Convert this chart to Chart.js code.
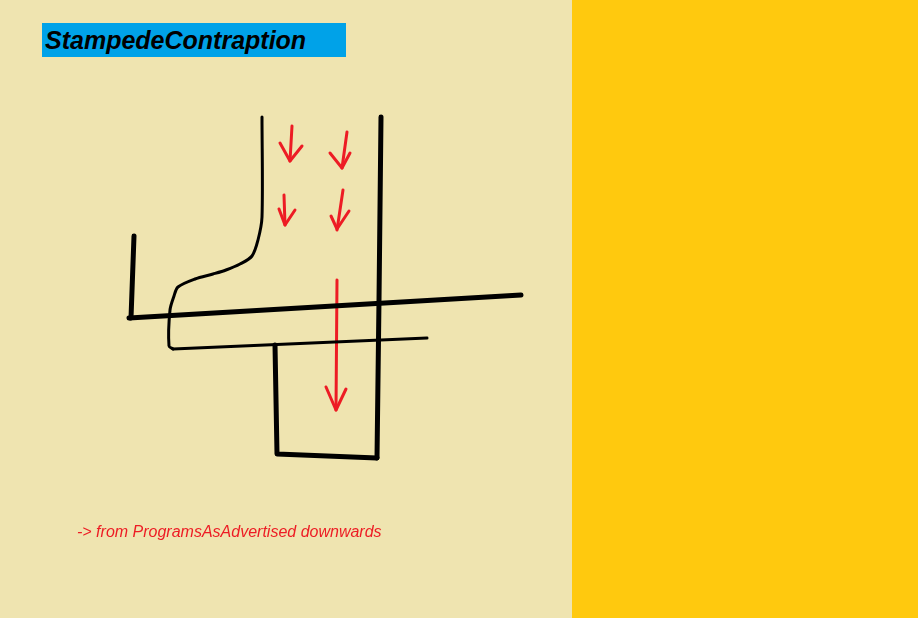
<!DOCTYPE html>
<html>
<head>
<meta charset="utf-8">
<script src="https://cdn.jsdelivr.net/npm/chart.js@4"></script>
<style>
  html, body { margin: 0; padding: 0; }
  #wrap {
    position: relative; width: 918px; height: 618px; overflow: hidden;
    background: linear-gradient(to right, #EFE4B0 0px, #EFE4B0 572px, #FFC90E 572px, #FFC90E 918px);
  }
  #sketch { position: absolute; left: 0; top: 0; }
  #title {
    position: absolute; left: 42px; top: 23px; width: 304px; height: 34px;
    background: #00A2E8; color: #000;
    font: italic bold 25px "Liberation Sans", Arial, sans-serif; line-height: 34px;
    padding-left: 3px; box-sizing: border-box; white-space: nowrap;
  }
  #note {
    position: absolute; left: 77px; top: 524px; color: #ED1C24;
    font: italic 16px "Liberation Sans", Arial, sans-serif; line-height: 16px; white-space: nowrap;
  }
</style>
</head>
<body>
<div id="wrap">
  <canvas id="sketch" width="918" height="618"></canvas>
  <div id="title">StampedeContraption</div>
  <div id="note">-&gt; from ProgramsAsAdvertised downwards</div>
</div>
<script>
// sketch strokes, as [x, y] points on a 918 x 618 grid (y grows downwards)
const wallLeftShort = [[134, 236], [131, 318]];
const floorLong = [[129, 318], [521, 295]];
const chuteCurve = [[262, 117], [262, 217], [258, 240], [252, 256], [240, 264], [226, 270],
                    [213, 274], [195, 279], [178, 287], [174, 296], [170, 310], [169, 346], [173, 349]];
const shelfLine = [[173, 349], [427, 338]];
const wallRight = [[381, 117], [379, 300], [377, 458]];
const binOutline = [[275, 345], [277, 454], [377, 458]];

const arrowAShaft = [[292, 126], [290, 161]];
const arrowAHead = [[280, 143], [290, 161], [302, 146]];
const arrowBShaft = [[347, 132], [342, 168]];
const arrowBHead = [[330, 153], [342, 168], [350, 153]];
const arrowCShaft = [[284, 195], [285, 225]];
const arrowCHead = [[279, 209], [285, 225], [295, 210]];
const arrowDShaft = [[343, 190], [337, 230]];
const arrowDHead = [[331, 216], [337, 229], [349, 211]];
const arrowLongShaft = [[337, 280], [336, 410]];
const arrowLongHead = [[326, 387], [336, 410], [346, 389]];

const BLACK = '#000000';
const RED = '#ED1C24';

function stroke(points, color, width, tension) {
  return {
    data: points.map(p => ({ x: p[0], y: p[1] })),
    showLine: true,
    borderColor: color,
    borderWidth: width,
    borderCapStyle: 'round',
    borderJoinStyle: 'round',
    pointRadius: 0,
    pointHoverRadius: 0,
    tension: tension || 0,
    fill: false
  };
}

const datasets = [
  stroke(wallLeftShort, BLACK, 5),
  stroke(floorLong, BLACK, 5),
  stroke(chuteCurve, BLACK, 3, 0.3),
  stroke(shelfLine, BLACK, 3),
  stroke(wallRight, BLACK, 5),
  stroke(binOutline, BLACK, 5),
  stroke(arrowAShaft, RED, 3),
  stroke(arrowAHead, RED, 3),
  stroke(arrowBShaft, RED, 3),
  stroke(arrowBHead, RED, 3),
  stroke(arrowCShaft, RED, 3),
  stroke(arrowCHead, RED, 3),
  stroke(arrowDShaft, RED, 3),
  stroke(arrowDHead, RED, 3),
  stroke(arrowLongShaft, RED, 3),
  stroke(arrowLongHead, RED, 3)
];

new Chart(document.getElementById('sketch').getContext('2d'), {
  type: 'scatter',
  data: { datasets: datasets },
  options: {
    responsive: false,
    animation: false,
    layout: { padding: 0 },
    plugins: { legend: { display: false }, tooltip: { enabled: false } },
    events: [],
    scales: {
      x: { type: 'linear', min: 0, max: 918, display: false },
      y: { type: 'linear', min: 0, max: 618, reverse: true, display: false }
    }
  }
});
</script>
</body>
</html>
